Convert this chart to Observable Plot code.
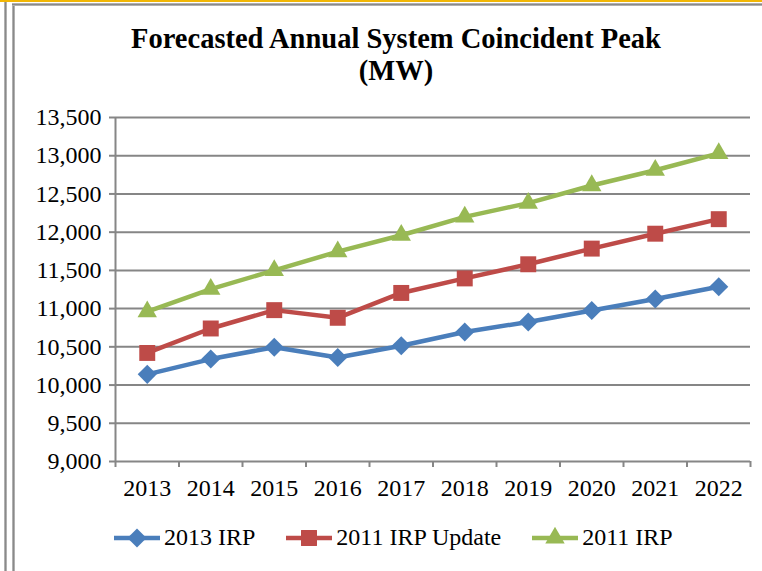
<!DOCTYPE html>
<html><head><meta charset="utf-8">
<script src="https://cdn.jsdelivr.net/npm/d3@7"></script>
<script src="https://cdn.jsdelivr.net/npm/@observablehq/plot@0.6"></script>
<style>
html,body{margin:0;padding:0;background:#fff;}
body{width:762px;height:571px;overflow:hidden;position:relative;font-family:"Liberation Serif","Times New Roman",serif;color:#000;}
.gold{position:absolute;left:0;top:0;width:762px;height:2px;background:#F2B705;}
.vl{position:absolute;width:3px;background:linear-gradient(90deg,#c4c4c4,#8a8a8a,#c4c4c4);}
.hl{position:absolute;height:3px;background:linear-gradient(180deg,#c4c4c4,#8a8a8a,#c4c4c4);}
#title{position:absolute;left:0;width:792px;top:23px;text-align:center;font-weight:bold;font-size:28.5px;line-height:32px;}
#chart{position:absolute;left:0;top:100px;}
#legend{position:absolute;left:114px;top:524px;display:flex;align-items:center;font-size:24px;white-space:nowrap;}
.item{display:flex;align-items:center;margin-right:31px;}
.item svg{margin-right:4px;}
</style></head><body>
<div class="gold"></div>
<div class="vl" style="left:4px;top:2px;height:569px;"></div>
<div class="vl" style="left:12px;top:3px;height:568px;"></div>
<div class="hl" style="left:12px;top:3px;width:750px;"></div>
<div id="title">Forecasted Annual System Coincident Peak<br>(MW)</div>
<div id="chart"></div>
<div id="legend"></div>
<script>
const years = [2013, 2014, 2015, 2016, 2017, 2018, 2019, 2020, 2021, 2022];
const irp2013 = [10140, 10340, 10495, 10360, 10515, 10695, 10825, 10975, 11125, 11285];
const irp2011Update = [10420, 10740, 10980, 10880, 11205, 11395, 11580, 11785, 11980, 12170];
const irp2011 = [10960, 11255, 11500, 11745, 11960, 12200, 12380, 12610, 12810, 13030];
const yTicks = [9000, 9500, 10000, 10500, 11000, 11500, 12000, 12500, 13000, 13500];
const seriesNames = ["2013 IRP", "2011 IRP Update", "2011 IRP"];
const seriesColors = ["#4A7EBB", "#BE4B48", "#98B954"];
const seriesSymbols = ["diamond2", "square", "triangle"];
const seriesRadius = [8.6, 9, 7.2];
const seriesValues = [irp2013, irp2011Update, irp2011];

const series = seriesNames.map((name, i) => ({
  name, color: seriesColors[i], symbol: seriesSymbols[i], r: seriesRadius[i],
  rows: years.map((year, j) => ({year, value: seriesValues[i][j], series: name}))
}));
const boundaries = years.map(y => y - 0.5).concat([years[years.length - 1] + 0.5]);
const gridColor = "#868686";

const marks = [
  Plot.gridY(yTicks, {stroke: gridColor, strokeOpacity: 1, strokeWidth: 2}),
  Plot.ruleX([boundaries[0]], {stroke: gridColor, strokeWidth: 2}),
  Plot.axisY(yTicks, {tickSize: 6, tickPadding: 8, tickFormat: d3.format(","), stroke: gridColor, strokeWidth: 2, strokeOpacity: 1, label: null, fontSize: 24}),
  Plot.axisX(boundaries, {tickSize: 6, tickFormat: () => "", stroke: gridColor, strokeWidth: 2, strokeOpacity: 1, label: null}),
  Plot.axisX(years, {tickSize: 0, tickPadding: 17, tickFormat: d => String(d), label: null, fontSize: 24})
];
for (const s of series) {
  marks.push(Plot.line(s.rows, {x: "year", y: "value", stroke: s.color, strokeWidth: 4.5}));
}
for (const s of series) {
  marks.push(Plot.dot(s.rows, {x: "year", y: "value", symbol: s.symbol, fill: s.color, stroke: "none", r: s.r}));
}

const chart = Plot.plot({
  width: 762, height: 400,
  marginLeft: 115, marginRight: 12, marginTop: 17, marginBottom: 39,
  x: {type: "linear", domain: [boundaries[0], boundaries[boundaries.length - 1]]},
  y: {domain: [yTicks[0], yTicks[yTicks.length - 1]]},
  style: {fontFamily: "'Liberation Serif', 'Times New Roman', serif", fontSize: "24px", color: "#000", background: "transparent", overflow: "visible"},
  marks
});
document.getElementById("chart").appendChild(chart);

const legend = document.getElementById("legend");
const symMap = {diamond2: d3.symbolDiamond2, square: d3.symbolSquare, triangle: d3.symbolTriangle};
for (const s of series) {
  const item = document.createElement("div");
  item.className = "item";
  const svg = d3.create("svg").attr("width", 46).attr("height", 22);
  svg.append("line").attr("x1", 0).attr("x2", 46).attr("y1", 11).attr("y2", 11).attr("stroke", s.color).attr("stroke-width", 4.5);
  svg.append("path").attr("transform", "translate(23,11)").attr("fill", s.color)
    .attr("d", d3.symbol(symMap[s.symbol], Math.PI * s.r * s.r)());
  item.appendChild(svg.node());
  const t = document.createElement("span");
  t.textContent = s.name;
  item.appendChild(t);
  legend.appendChild(item);
}
</script>
</body></html>
